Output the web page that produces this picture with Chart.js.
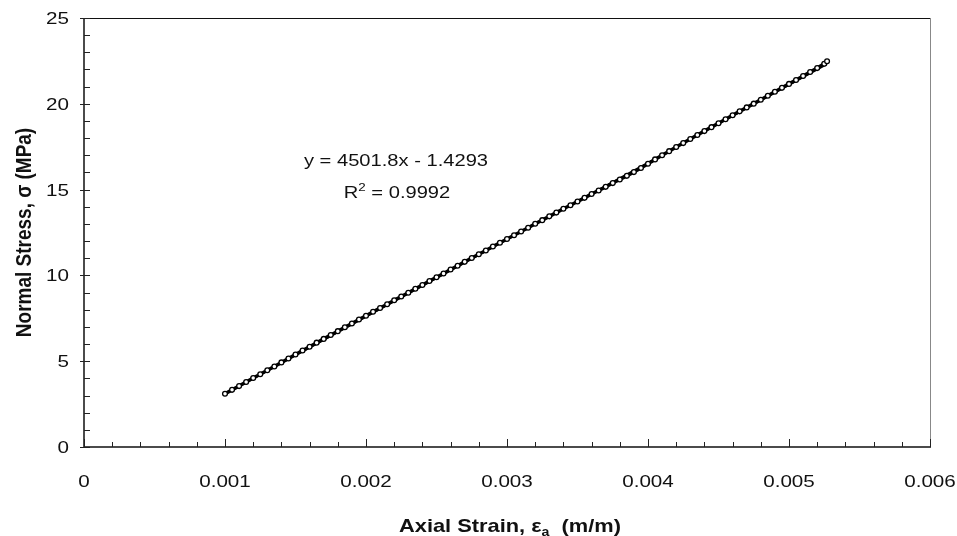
<!DOCTYPE html>
<html>
<head>
<meta charset="utf-8">
<script src="https://cdn.jsdelivr.net/npm/chart.js@4.4.1/dist/chart.umd.min.js"></script>
<style>
  html, body { margin: 0; padding: 0; background: #fff; }
  #wrap { width: 957px; height: 536px; position: relative; }
</style>
</head>
<body>
<div id="wrap"><canvas id="c"></canvas></div>
<script>
// ---- data ----
const strain = [
  0.00100, 0.00105, 0.00110, 0.00115, 0.00120, 0.00125, 0.00130, 0.00135, 0.00140, 0.00145,
  0.00150, 0.00155, 0.00160, 0.00165, 0.00170, 0.00175, 0.00180, 0.00185, 0.00190, 0.00195,
  0.00200, 0.00205, 0.00210, 0.00215, 0.00220, 0.00225, 0.00230, 0.00235, 0.00240, 0.00245,
  0.00250, 0.00255, 0.00260, 0.00265, 0.00270, 0.00275, 0.00280, 0.00285, 0.00290, 0.00295,
  0.00300, 0.00305, 0.00310, 0.00315, 0.00320, 0.00325, 0.00330, 0.00335, 0.00340, 0.00345,
  0.00350, 0.00355, 0.00360, 0.00365, 0.00370, 0.00375, 0.00380, 0.00385, 0.00390, 0.00395,
  0.00400, 0.00405, 0.00410, 0.00415, 0.00420, 0.00425, 0.00430, 0.00435, 0.00440, 0.00445,
  0.00450, 0.00455, 0.00460, 0.00465, 0.00470, 0.00475, 0.00480, 0.00485, 0.00490, 0.00495,
  0.00500, 0.00505, 0.00510, 0.00515, 0.00520, 0.00525, 0.00527
];
const stress = [
  3.10, 3.33, 3.55, 3.79, 4.02, 4.24, 4.47, 4.69, 4.93, 5.16,
  5.39, 5.62, 5.84, 6.08, 6.30, 6.53, 6.75, 6.98, 7.20, 7.43,
  7.65, 7.88, 8.10, 8.32, 8.55, 8.77, 8.99, 9.22, 9.44, 9.67,
  9.89, 10.11, 10.34, 10.56, 10.79, 11.01, 11.23, 11.45, 11.68, 11.90,
  12.12, 12.34, 12.56, 12.78, 13.01, 13.22, 13.44, 13.66, 13.88, 14.09,
  14.31, 14.52, 14.74, 14.95, 15.16, 15.38, 15.59, 15.80, 16.02, 16.26,
  16.51, 16.76, 17.00, 17.24, 17.48, 17.71, 17.95, 18.18, 18.41, 18.64,
  18.87, 19.10, 19.33, 19.56, 19.79, 20.01, 20.24, 20.47, 20.70, 20.93,
  21.16, 21.39, 21.62, 21.85, 22.08, 22.33, 22.48
];
const trendStrain = [0.00099, 0.00527];
const trendStress = [3.03, 22.30];
const xTicks = [0, 0.001, 0.002, 0.003, 0.004, 0.005, 0.006];
const xTickLabels = ["0", "0.001", "0.002", "0.003", "0.004", "0.005", "0.006"];
const yTicks = [0, 5, 10, 15, 20, 25];
const yTickLabels = ["0", "5", "10", "15", "20", "25"];
const equationText = "y = 4501.8x - 1.4293";
const r2Value = "0.9992";

// ---- text helpers ----
const FONT = '"Liberation Sans", Arial, sans-serif';
const SX = 1.25; // horizontal stretch seen in the reference

function partsWidth(ctx, parts) {
  let w = 0;
  for (const p of parts) { ctx.font = p.font; w += ctx.measureText(p.text).width; }
  return w;
}
function drawParts(ctx, parts, x, y, align, rotate, s) {
  ctx.save();
  ctx.translate(x, y);
  if (rotate) { ctx.rotate(-Math.PI / 2); ctx.scale(1, s); }
  else ctx.scale(s, 1);
  const w = partsWidth(ctx, parts);
  let cx = align === 'center' ? -w / 2 : align === 'right' ? -w : 0;
  ctx.textBaseline = 'alphabetic';
  ctx.textAlign = 'left';
  ctx.fillStyle = '#111';
  for (const p of parts) {
    ctx.font = p.font;
    ctx.fillText(p.text, cx, p.dy || 0);
    cx += ctx.measureText(p.text).width;
  }
  ctx.restore();
}

const decor = {
  id: 'decor',
  afterDatasetsDraw(chart) {
    const ctx = chart.ctx;
    const a = chart.chartArea;
    const xs = chart.scales.x, ys = chart.scales.y;
    ctx.save();
    // frame
    ctx.lineWidth = 1;
    ctx.strokeStyle = '#888';
    ctx.beginPath(); ctx.moveTo(a.right + 0.5, a.top); ctx.lineTo(a.right + 0.5, a.bottom); ctx.stroke();
    ctx.strokeStyle = '#111';
    ctx.beginPath(); ctx.moveTo(a.left, a.top + 0.5); ctx.lineTo(a.right, a.top + 0.5); ctx.stroke();
    ctx.lineWidth = 1.5;
    ctx.beginPath();
    ctx.moveTo(a.left, a.top); ctx.lineTo(a.left, a.bottom); ctx.lineTo(a.right + 1, a.bottom);
    ctx.stroke();
    // ticks
    ctx.lineWidth = 1;
    ctx.strokeStyle = '#222';
    for (let i = 0; i <= 30; i++) {
      const v = i * 0.0002;
      const px = Math.round(xs.getPixelForValue(v)) + 0.5;
      const major = i % 5 === 0;
      ctx.beginPath();
      ctx.moveTo(px, a.bottom);
      ctx.lineTo(px, a.bottom - (major ? 8 : 5));
      ctx.stroke();
    }
    for (let i = 0; i <= 25; i++) {
      const py = Math.round(ys.getPixelForValue(i)) + 0.5;
      const major = i % 5 === 0;
      ctx.beginPath();
      ctx.moveTo(a.left - (major ? 4 : 0), py);
      ctx.lineTo(a.left + 6, py);
      ctx.stroke();
    }
    // tick labels
    const tf = '16.5px ' + FONT;
    xTicks.forEach((v, i) => {
      drawParts(ctx, [{ text: xTickLabels[i], font: tf }], xs.getPixelForValue(v), a.bottom + 40, 'center', false, SX);
    });
    yTicks.forEach((v, i) => {
      drawParts(ctx, [{ text: yTickLabels[i], font: tf }], a.left - 15, ys.getPixelForValue(v) + 6, 'right', false, SX);
    });
    // axis titles
    const bf = 'bold 18.5px ' + FONT;
    const sf = 'bold 12px ' + FONT;
    drawParts(ctx, [
      { text: 'Axial Strain, ε', font: bf },
      { text: 'a', font: sf, dy: 4 },
      { text: '  (m/m)', font: bf }
    ], (a.left + a.right) / 2 + 3, 532, 'center', false, 1.18);
    drawParts(ctx, [
      { text: 'Normal Stress, σ (MPa)', font: 'bold 19px ' + FONT }
    ], 31, (a.top + a.bottom) / 2, 'center', true, 1.2);
    // equation
    const ef = '16.5px ' + FONT;
    drawParts(ctx, [{ text: equationText, font: ef }], 396, 166, 'center', false, 1.22);
    drawParts(ctx, [
      { text: 'R', font: ef },
      { text: '2', font: '11px ' + FONT, dy: -7 },
      { text: ' = ' + r2Value, font: ef }
    ], 397, 198, 'center', false, 1.22);
    ctx.restore();
  }
};

const pts = strain.map((x, i) => ({ x: x, y: stress[i] }));
const trend = trendStrain.map((x, i) => ({ x: x, y: trendStress[i] }));

new Chart(document.getElementById('c'), {
  type: 'scatter',
  data: {
    datasets: [
      {
        data: trend, showLine: true, borderColor: '#000', borderWidth: 1.5,
        pointRadius: 0, order: 2
      },
      {
        data: pts, showLine: true, borderColor: '#000', borderWidth: 3.5,
        pointRadius: 2.4, pointBorderWidth: 1.3, pointBorderColor: '#000',
        pointBackgroundColor: '#fff', order: 1
      }
    ]
  },
  options: {
    responsive: true,
    maintainAspectRatio: false,
    animation: false,
    events: [],
    layout: { padding: { left: 84, top: 18, right: 27, bottom: 89 } },
    plugins: { legend: { display: false }, tooltip: { enabled: false } },
    scales: {
      x: { type: 'linear', min: 0, max: 0.006, display: false },
      y: { type: 'linear', min: 0, max: 25, display: false }
    }
  },
  plugins: [decor]
});
</script>
</body>
</html>
